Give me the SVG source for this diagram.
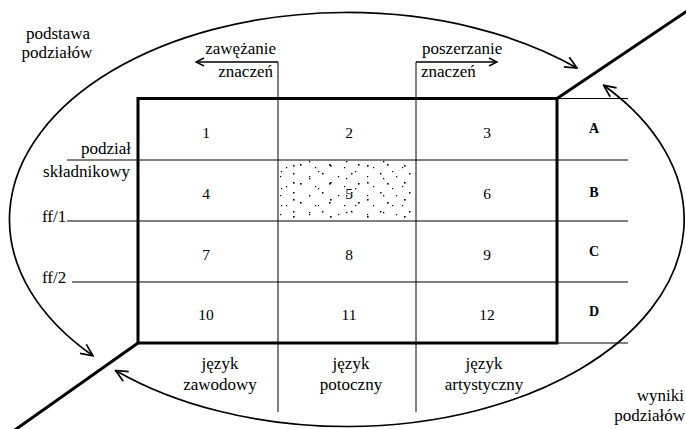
<svg xmlns="http://www.w3.org/2000/svg" width="686" height="429" viewBox="0 0 686 429">
  <style>
    text { font-family: "Liberation Serif", "Times New Roman", serif; fill: #000; }
    .lbl { font-size: 17px; }
    .num { font-size: 15.5px; text-anchor: middle; }
    .row { font-size: 14px; font-weight: bold; text-anchor: middle; }
    .mid { text-anchor: middle; }
    .end { text-anchor: end; }
    .thin { stroke: #000; stroke-width: 1; fill: none; }
    .thick { stroke: #000; stroke-width: 3; fill: none; }
    .arc { stroke: #000; stroke-width: 1.7; fill: none; marker-start: url(#bigHead); marker-end: url(#bigHead); }
    .dir { stroke: #000; stroke-width: 1.3; fill: none; marker-end: url(#smallHead); }
    .dot { fill: #000; }
  </style>
  <defs>
    <marker id="bigHead" viewBox="0 0 14 14" refX="13" refY="7" markerWidth="14" markerHeight="14" markerUnits="userSpaceOnUse" orient="auto-start-reverse">
      <path d="M1,1.5 L13,7 L1,12.5" fill="none" stroke="#000" stroke-width="1.7"/>
    </marker>
    <marker id="smallHead" viewBox="0 0 10 10" refX="9" refY="5" markerWidth="10" markerHeight="10" markerUnits="userSpaceOnUse" orient="auto">
      <path d="M1,1 L9,5 L1,9" fill="none" stroke="#000" stroke-width="1.4"/>
    </marker>
    <!-- two overlapping speckle tiles give an irregular stipple -->
    <pattern id="speckA" width="29" height="19" patternUnits="userSpaceOnUse">
      <rect class="dot" x="3" y="2" width="1.5" height="1.5"/>
      <rect class="dot" x="19" y="5" width="1.2" height="1.2"/>
      <rect class="dot" x="10" y="12" width="1.6" height="1.6"/>
      <rect class="dot" x="25" y="15" width="1.2" height="1.2"/>
    </pattern>
    <pattern id="speckB" width="37" height="17" patternUnits="userSpaceOnUse" patternTransform="translate(7,4)">
      <rect class="dot" x="6" y="4" width="1.3" height="1.3"/>
      <rect class="dot" x="27" y="8" width="1.6" height="1.6"/>
      <rect class="dot" x="15" y="14" width="1.2" height="1.2"/>
    </pattern>
  </defs>

  <!-- labels around the ellipse -->
  <g id="basis-label">
    <text class="lbl mid" x="58" y="39">podstawa</text>
    <text class="lbl mid" x="57" y="58">podziałów</text>
  </g>
  <g id="results-label">
    <text class="lbl end" x="684" y="401">wyniki</text>
    <text class="lbl end" x="685" y="421">podziałów</text>
  </g>

  <!-- narrowing / widening of meanings -->
  <g id="narrowing">
    <text class="lbl end" x="276" y="54">zawężanie</text>
    <text class="lbl end" x="273" y="77">znaczeń</text>
  </g>
  <g id="widening">
    <text class="lbl" x="422" y="54">poszerzanie</text>
    <text class="lbl" x="421" y="77">znaczeń</text>
  </g>

  <!-- row labels on the left -->
  <g id="component-division">
    <text class="lbl end" x="131" y="154">podział</text>
    <text class="lbl end" x="130" y="177">składnikowy</text>
  </g>
  <g id="ff1"><text class="lbl" x="42" y="222">ff/1</text></g>
  <g id="ff2"><text class="lbl" x="42" y="283">ff/2</text></g>

  <!-- stippled cell 5 -->
  <g id="cell-5-fill">
    <rect x="279" y="161" width="136" height="59" fill="url(#speckA)"/>
    <rect x="279" y="161" width="136" height="59" fill="url(#speckB)"/>
  </g>

  <!-- grid lines -->
  <g id="grid">
    <line class="thin" x1="67" y1="160" x2="628" y2="160"/>
    <line class="thin" x1="67" y1="221" x2="628" y2="221"/>
    <line class="thin" x1="72" y1="282" x2="628" y2="282"/>
    <line class="thin" x1="557" y1="98.5" x2="628" y2="98.5"/>
    <line class="thin" x1="557" y1="343" x2="628" y2="343"/>
    <line class="thin" x1="278" y1="62" x2="278" y2="412"/>
    <line class="thin" x1="416" y1="62" x2="416" y2="412"/>
  </g>
  <g id="matrix">
    <rect class="thick" x="138" y="98.5" width="419" height="244.5"/>
  </g>

  <!-- cells -->
  <g id="cells">
    <text class="num" x="206" y="138">1</text>
    <text class="num" x="349" y="138">2</text>
    <text class="num" x="487" y="138">3</text>
    <text class="num" x="206" y="199">4</text>
    <text class="num" x="349" y="199">5</text>
    <text class="num" x="487" y="199">6</text>
    <text class="num" x="206" y="260">7</text>
    <text class="num" x="349" y="260">8</text>
    <text class="num" x="487" y="260">9</text>
    <text class="num" x="206" y="320">10</text>
    <text class="num" x="349" y="320">11</text>
    <text class="num" x="487" y="320">12</text>
  </g>
  <g id="rows">
    <text class="row" x="594" y="133">A</text>
    <text class="row" x="594" y="197">B</text>
    <text class="row" x="594" y="256">C</text>
    <text class="row" x="594" y="316">D</text>
  </g>

  <!-- language columns -->
  <g id="col-professional">
    <text class="lbl mid" x="220" y="369">język</text>
    <text class="lbl mid" x="220" y="390">zawodowy</text>
  </g>
  <g id="col-colloquial">
    <text class="lbl mid" x="351" y="369">język</text>
    <text class="lbl mid" x="351" y="390">potoczny</text>
  </g>
  <g id="col-artistic">
    <text class="lbl mid" x="484" y="369">język</text>
    <text class="lbl mid" x="484" y="390">artystyczny</text>
  </g>

  <!-- connectors -->
  <g id="connectors">
    <line class="thick" x1="557" y1="98.5" x2="690" y2="9"/>
    <line class="thick" x1="138" y1="343" x2="12" y2="432"/>
    <path class="arc" d="M577,68 A337.5,207 0 0 0 93,355.8"/>
    <path class="arc" d="M603.6,85.3 A337.5,207 0 0 1 115.6,370.4"/>
    <path class="dir" d="M278,62 H196"/>
    <path class="dir" d="M416,62 H497"/>
  </g>
</svg>
